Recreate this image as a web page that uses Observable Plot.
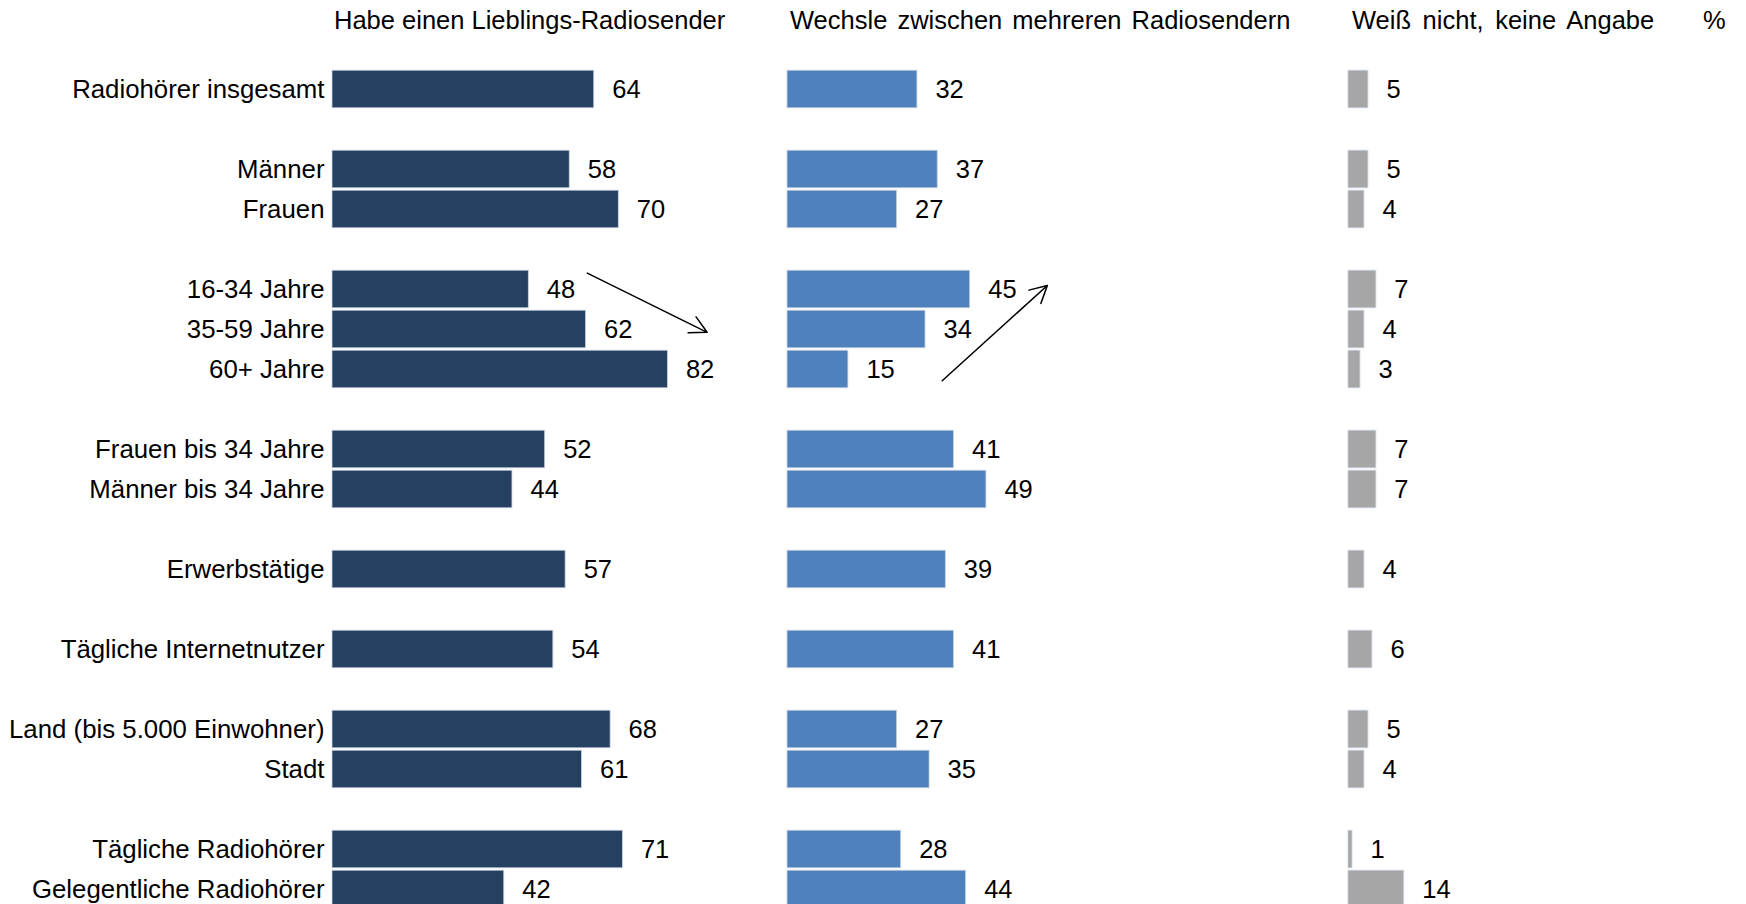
<!DOCTYPE html>
<html>
<head>
<meta charset="utf-8">
<script src="https://cdn.jsdelivr.net/npm/d3@7"></script>
<script src="https://cdn.jsdelivr.net/npm/@observablehq/plot@0.6"></script>
<style>
  html, body { margin: 0; padding: 0; background: #fff; }
  #chart { position: relative; width: 1746px; height: 904px; overflow: hidden; background: #fff;
           font-family: "Liberation Sans", Arial, sans-serif; }
  .panel { position: absolute; top: 0; }
  .panel svg { overflow: visible; }
  .hdr { position: absolute; top: 0; height: 40px; line-height: 40px; font-size: 25.5px; color: #000; white-space: nowrap; }
</style>
</head>
<body>
<div id="chart"></div>
<script>
// ---- data ----
const categories = [
  "Radiohörer insgesamt",
  "Männer", "Frauen",
  "16-34 Jahre", "35-59 Jahre", "60+ Jahre",
  "Frauen bis 34 Jahre", "Männer bis 34 Jahre",
  "Erwerbstätige",
  "Tägliche Internetnutzer",
  "Land (bis 5.000 Einwohner)", "Stadt",
  "Tägliche Radiohörer", "Gelegentliche Radiohörer"
];
const groupSizes = [1, 2, 3, 2, 1, 1, 2, 2];
const lieblings  = [64, 58, 70, 48, 62, 82, 52, 44, 57, 54, 68, 61, 71, 42];
const wechsle    = [32, 37, 27, 45, 34, 15, 41, 49, 39, 41, 27, 35, 28, 44];
const weissNicht = [5, 5, 4, 7, 4, 3, 7, 7, 4, 6, 5, 4, 1, 14];
const seriesNames = ["Habe einen Lieblings-Radiosender", "Wechsle zwischen mehreren Radiosendern", "Weiß nicht, keine Angabe"];
const unitLabel = "%";
// trend arrows (x in % of the panel's scale, y in row units)
const arrowLieblings = [{x1: 62.3, y1: 4.59, x2: 91.6, y2: 6.07}];
const arrowWechsle   = [{x1: 38.1, y1: 7.28, x2: 64.0, y2: 4.9}];

// ---- rows (one empty row between groups) ----
const rows = [];
{
  let r = 0;
  groupSizes.forEach(n => {
    for (let j = 0; j < n; j++) rows.push(r++);
    r++; // gap row
  });
}
const make = vals => categories.map((c, i) => ({cat: c, row: rows[i], value: vals[i]}));

const FONT = "Liberation Sans, Arial, sans-serif";
const FS = 25.5;
const yScale = {domain: [-0.5, 20.5], range: [69, 909], axis: null};

function panel({vals, color, left, width, marginLeft, marginRight, withLabels, arrows}) {
  const data = make(vals);
  const marks = [
    Plot.rect(data, {
      x1: 0, x2: "value",
      y1: d => d.row - 0.47, y2: d => d.row + 0.47,
      fill: color, stroke: "#c9d3e0", strokeWidth: 0.8
    }),
    Plot.text(data, {
      x: "value", y: "row", text: d => String(d.value),
      textAnchor: "start", dx: 18, fontSize: FS, fill: "#000"
    })
  ];
  if (withLabels) {
    marks.push(Plot.text(data, {
      x: 0, y: "row", text: "cat", textAnchor: "end", dx: -8, fontSize: 25.8, fill: "#000"
    }));
  }
  if (arrows) {
    marks.push(Plot.arrow(arrows, {
      x1: "x1", y1: "y1", x2: "x2", y2: "y2",
      stroke: "#000", strokeWidth: 1.5, headLength: 19, headAngle: 56
    }));
  }
  const svg = Plot.plot({
    width, height: 904,
    marginLeft, marginRight, marginTop: 0, marginBottom: 0,
    x: {domain: [0, 100], axis: null},
    y: yScale,
    style: {fontFamily: FONT, fontSize: FS + "px", background: "transparent", overflow: "visible"},
    marks
  });
  const wrap = document.createElement("div");
  wrap.className = "panel";
  wrap.style.left = left + "px";
  wrap.appendChild(svg);
  document.getElementById("chart").appendChild(wrap);
}

panel({vals: lieblings, color: "#264061", left: 0, width: 760, marginLeft: 332, marginRight: 19, withLabels: true, arrows: arrowLieblings});
panel({vals: wechsle, color: "#4f81bd", left: 787, width: 450, marginLeft: 0, marginRight: 44, withLabels: false, arrows: arrowWechsle});
panel({vals: weissNicht, color: "#a6a6a6", left: 1348, width: 398, marginLeft: 0, marginRight: 0, withLabels: false, arrows: null});

// ---- column headers ----
const hdrLefts = [334, 790, 1352];
const hdrWordSpacing = [0, 3, 4.5];
seriesNames.forEach((t, i) => {
  const d = document.createElement("div");
  d.className = "hdr";
  d.style.left = hdrLefts[i] + "px";
  d.style.wordSpacing = hdrWordSpacing[i] + "px";
  d.textContent = t;
  document.getElementById("chart").appendChild(d);
});
{
  const d = document.createElement("div");
  d.className = "hdr";
  d.style.left = "1703px";
  d.textContent = unitLabel;
  document.getElementById("chart").appendChild(d);
}
</script>
</body>
</html>
